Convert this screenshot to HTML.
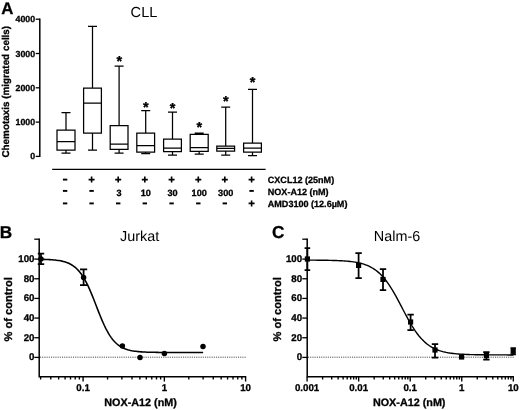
<!DOCTYPE html>
<html><head><meta charset="utf-8"><title>Figure</title>
<style>
html,body{margin:0;padding:0;background:#fff;}
body{width:520px;height:410px;overflow:hidden;}
svg{display:block;will-change:transform;transform:translateZ(0);}
text{font-family:"Liberation Sans",sans-serif;fill:#000;text-rendering:geometricPrecision;}
.b{font-weight:bold;stroke:#000;stroke-width:0.3px;}
.l{stroke:#000;fill:none;}
</style></head><body>
<svg width="520" height="410" viewBox="0 0 520 410">
<rect width="520" height="410" fill="#fff"/>
<text class="b" x="1.3" y="13.5" font-size="16.8">A</text>
<text x="144" y="16.8" font-size="14.6" text-anchor="middle">CLL</text>
<path class="l" stroke-width="1.5" d="M39.8 18.599999999999998V157.0"/>
<path class="l" stroke-width="1.3" d="M35.699999999999996 156.40H39.8"/>
<text class="b" x="35.099999999999994" y="159" font-size="8.8" text-anchor="end">0</text>
<path class="l" stroke-width="1.3" d="M35.699999999999996 122.10H39.8"/>
<text class="b" x="35.099999999999994" y="125" font-size="8.8" text-anchor="end">1000</text>
<path class="l" stroke-width="1.3" d="M35.699999999999996 87.80H39.8"/>
<text class="b" x="35.099999999999994" y="91" font-size="8.8" text-anchor="end">2000</text>
<path class="l" stroke-width="1.3" d="M35.699999999999996 53.50H39.8"/>
<text class="b" x="35.099999999999994" y="57" font-size="8.8" text-anchor="end">3000</text>
<path class="l" stroke-width="1.3" d="M35.699999999999996 19.20H39.8"/>
<text class="b" x="35.099999999999994" y="22" font-size="8.8" text-anchor="end">4000</text>
<text class="b" font-size="9.9" text-anchor="middle" transform="translate(8.7 91.7) rotate(-90)">Chemotaxis (migrated cells)</text>
<path class="l" stroke-width="1.25" d="M57 130H75V150.1H57Z M57 141.6H75 M66.0 130V112.6 M61.5 112.6H70.5 M66.0 150.1V153.1 M61.5 153.1H70.5"/>
<path class="l" stroke-width="1.25" d="M83.6 88H101.4V133H83.6Z M83.6 103H101.4 M92.5 88V26.4 M88.0 26.4H97.0 M92.5 133V150 M88.0 150H97.0"/>
<path class="l" stroke-width="1.25" d="M110.2 125.6H128V149.4H110.2Z M110.2 144H128 M119.1 125.6V66 M114.6 66H123.6 M119.1 149.4V153 M114.6 153H123.6"/>
<text class="b" x="119.3" y="66" font-size="14.5" text-anchor="middle" stroke="#000" stroke-width="0.25">*</text>
<path class="l" stroke-width="1.25" d="M136.8 133H154.6V152H136.8Z M136.8 145.6H154.6 M145.7 133V110.6 M141.2 110.6H150.2 M145.7 152V153.6 M141.2 153.6H150.2"/>
<text class="b" x="145.89999999999998" y="112" font-size="14.5" text-anchor="middle" stroke="#000" stroke-width="0.25">*</text>
<path class="l" stroke-width="1.25" d="M163.6 139H181.4V151.6H163.6Z M163.6 148H181.4 M172.5 139V112 M168.0 112H177.0 M172.5 151.6V155 M168.0 155H177.0"/>
<text class="b" x="172.7" y="113" font-size="14.5" text-anchor="middle" stroke="#000" stroke-width="0.25">*</text>
<path class="l" stroke-width="1.25" d="M190.2 134.4H208.2V151.4H190.2Z M190.2 147.6H208.2 M199.2 134.4V133 M194.7 133H203.7 M199.2 151.4V154 M194.7 154H203.7"/>
<text class="b" x="199.39999999999998" y="132" font-size="14.5" text-anchor="middle" stroke="#000" stroke-width="0.25">*</text>
<path class="l" stroke-width="1.25" d="M216.8 146H234.6V151H216.8Z M216.8 148.4H234.6 M225.7 146V107 M221.2 107H230.2 M225.7 151V155 M221.2 155H230.2"/>
<text class="b" x="225.89999999999998" y="106" font-size="14.5" text-anchor="middle" stroke="#000" stroke-width="0.25">*</text>
<path class="l" stroke-width="1.25" d="M243.6 143H261.4V152H243.6Z M243.6 148H261.4 M252.5 143V89.4 M248.0 89.4H257.0 M252.5 152V155.6 M248.0 155.6H257.0"/>
<text class="b" x="252.7" y="87" font-size="14.5" text-anchor="middle" stroke="#000" stroke-width="0.25">*</text>
<path class="l" stroke-width="1.2" d="M52.2 169.4H265.6"/>
<path class="l" stroke-width="1.9" d="M62.89999999999999 179.6H67.3"/>
<path class="l" stroke-width="1.9" d="M62.89999999999999 190.9H67.3"/>
<path class="l" stroke-width="1.9" d="M62.89999999999999 203.4H67.3"/>
<path class="l" stroke-width="1.6" d="M88.6 179.6H94.6M91.6 176.6V182.6"/>
<path class="l" stroke-width="1.9" d="M89.39999999999999 190.9H93.8"/>
<path class="l" stroke-width="1.9" d="M89.39999999999999 203.4H93.8"/>
<path class="l" stroke-width="1.6" d="M115.19999999999999 179.6H121.19999999999999M118.19999999999999 176.6V182.6"/>
<text class="b" x="119.1" y="195.5" font-size="9.1" text-anchor="middle">3</text>
<path class="l" stroke-width="1.9" d="M115.99999999999999 203.4H120.39999999999999"/>
<path class="l" stroke-width="1.6" d="M141.79999999999998 179.6H147.79999999999998M144.79999999999998 176.6V182.6"/>
<text class="b" x="145.7" y="195.5" font-size="9.1" text-anchor="middle">10</text>
<path class="l" stroke-width="1.9" d="M142.6 203.4H146.99999999999997"/>
<path class="l" stroke-width="1.6" d="M168.6 179.6H174.6M171.6 176.6V182.6"/>
<text class="b" x="172.5" y="195.5" font-size="9.1" text-anchor="middle">30</text>
<path class="l" stroke-width="1.9" d="M169.4 203.4H173.79999999999998"/>
<path class="l" stroke-width="1.6" d="M195.29999999999998 179.6H201.29999999999998M198.29999999999998 176.6V182.6"/>
<text class="b" x="199.2" y="195.5" font-size="9.1" text-anchor="middle">100</text>
<path class="l" stroke-width="1.9" d="M196.1 203.4H200.49999999999997"/>
<path class="l" stroke-width="1.6" d="M221.79999999999998 179.6H227.79999999999998M224.79999999999998 176.6V182.6"/>
<text class="b" x="225.7" y="195.5" font-size="9.1" text-anchor="middle">300</text>
<path class="l" stroke-width="1.9" d="M222.6 203.4H226.99999999999997"/>
<path class="l" stroke-width="1.6" d="M248.6 179.6H254.6M251.6 176.6V182.6"/>
<path class="l" stroke-width="1.9" d="M249.4 190.9H253.79999999999998"/>
<path class="l" stroke-width="1.6" d="M248.6 203.4H254.6M251.6 200.4V206.4"/>
<text class="b" x="267.8" y="182.7" font-size="9.05">CXCL12 (25nM)</text>
<text class="b" x="267.8" y="195.1" font-size="9.05">NOX-A12 (nM)</text>
<text class="b" x="267.8" y="206.8" font-size="9.05">AMD3100 (12.6µM)</text>
<text class="b" x="-0.2" y="238.2" font-size="17.2">B</text>
<text x="139.6" y="241.1" font-size="14.4" text-anchor="middle">Jurkat</text>
<path class="l" stroke-width="1.5" d="M39.2 238.5V376.7H246.2"/>
<path class="l" stroke-width="1.3" d="M34.300000000000004 239.2H39.2"/>
<path class="l" stroke-width="1.3" d="M34.300000000000004 357.40H39.2"/>
<text class="b" x="34.5" y="360" font-size="9.7" text-anchor="end">0</text>
<path class="l" stroke-width="1.3" d="M34.300000000000004 337.74H39.2"/>
<text class="b" x="34.5" y="341" font-size="9.7" text-anchor="end">20</text>
<path class="l" stroke-width="1.3" d="M34.300000000000004 318.08H39.2"/>
<text class="b" x="34.5" y="321" font-size="9.7" text-anchor="end">40</text>
<path class="l" stroke-width="1.3" d="M34.300000000000004 298.42H39.2"/>
<text class="b" x="34.5" y="301" font-size="9.7" text-anchor="end">60</text>
<path class="l" stroke-width="1.3" d="M34.300000000000004 278.76H39.2"/>
<text class="b" x="34.5" y="282" font-size="9.7" text-anchor="end">80</text>
<path class="l" stroke-width="1.3" d="M34.300000000000004 259.10H39.2"/>
<text class="b" x="34.5" y="262" font-size="9.7" text-anchor="end">100</text>
<path d="M40.0 357.2H246.1" stroke="#333" stroke-width="0.9" stroke-dasharray="1.1 1.1" fill="none"/>
<text class="b" font-size="11.15" text-anchor="middle" transform="translate(12.2 309.4) rotate(-90)">% of control</text>
<path class="l" stroke-width="1.35" d="M40.62 376.7V379.6 M50.77 376.7V379.6 M58.64 376.7V379.6 M65.07 376.7V379.6 M70.51 376.7V379.6 M75.23 376.7V379.6 M79.38 376.7V379.6 M83.10 376.7V381.6 M107.56 376.7V379.6 M121.87 376.7V379.6 M132.02 376.7V379.6 M139.89 376.7V379.6 M146.32 376.7V379.6 M151.76 376.7V379.6 M156.48 376.7V379.6 M160.63 376.7V379.6 M164.35 376.7V381.6 M188.81 376.7V379.6 M203.12 376.7V379.6 M213.27 376.7V379.6 M221.14 376.7V379.6 M227.57 376.7V379.6 M233.01 376.7V379.6 M237.73 376.7V379.6 M241.88 376.7V379.6 M245.60 376.7V381.6"/>
<text class="b" x="83.10" y="391" font-size="9.7" text-anchor="middle">0.1</text>
<text class="b" x="164.35" y="391" font-size="9.7" text-anchor="middle">1</text>
<text class="b" x="245.60" y="391" font-size="9.7" text-anchor="middle">10</text>
<text class="b" x="140.6" y="406.3" font-size="10.8" text-anchor="middle">NOX-A12 (nM)</text>
<path class="l" stroke-width="1.55" d="M38.56 259.26 L39.93 259.28 L41.30 259.31 L42.67 259.35 L44.04 259.39 L45.41 259.43 L46.79 259.49 L48.16 259.55 L49.53 259.62 L50.90 259.71 L52.27 259.81 L53.64 259.93 L55.01 260.06 L56.38 260.22 L57.76 260.40 L59.13 260.60 L60.50 260.85 L61.87 261.13 L63.24 261.45 L64.61 261.83 L65.98 262.26 L67.36 262.76 L68.73 263.33 L70.10 263.99 L71.47 264.74 L72.84 265.60 L74.21 266.58 L75.58 267.70 L76.95 268.96 L78.33 270.38 L79.70 271.98 L81.07 273.76 L82.44 275.74 L83.81 277.92 L85.18 280.31 L86.55 282.90 L87.93 285.69 L89.30 288.68 L90.67 291.83 L92.04 295.13 L93.41 298.54 L94.78 302.04 L96.15 305.58 L97.52 309.12 L98.90 312.63 L100.27 316.05 L101.64 319.37 L103.01 322.54 L104.38 325.54 L105.75 328.36 L107.12 330.98 L108.49 333.39 L109.87 335.59 L111.24 337.60 L112.61 339.40 L113.98 341.02 L115.35 342.46 L116.72 343.74 L118.09 344.87 L119.47 345.87 L120.84 346.75 L122.21 347.51 L123.58 348.18 L124.95 348.76 L126.32 349.27 L127.69 349.71 L129.06 350.09 L130.44 350.42 L131.81 350.71 L133.18 350.95 L134.55 351.17 L135.92 351.35 L137.29 351.51 L138.66 351.64 L140.04 351.76 L141.41 351.86 L142.78 351.95 L144.15 352.03 L145.52 352.09 L146.89 352.15 L148.26 352.19 L149.63 352.23 L151.01 352.27 L152.38 352.30 L153.75 352.33 L155.12 352.35 L156.49 352.37 L157.86 352.38 L159.23 352.40 L160.61 352.41 L161.98 352.42 L163.35 352.43 L164.72 352.44 L166.09 352.44 L167.46 352.45 L168.83 352.46 L170.20 352.46 L171.58 352.46 L172.95 352.47 L174.32 352.47 L175.69 352.47 L177.06 352.47 L178.43 352.47 L179.80 352.48 L181.17 352.48 L182.55 352.48 L183.92 352.48 L185.29 352.48 L186.66 352.48 L188.03 352.48 L189.40 352.48 L190.77 352.48 L192.15 352.48 L193.52 352.48 L194.89 352.48 L196.26 352.48 L197.63 352.48 L199.00 352.48 L200.37 352.48 L201.74 352.48 L203.12 352.48"/>
<path class="l" stroke-width="1.75" d="M41 253.6V264.2M37.8 253.6H44.2M37.8 264.2H44.2"/>
<path class="l" stroke-width="1.75" d="M83.6 269.4V285.2M80.0 269.4H87.19999999999999M80.0 285.2H87.19999999999999"/>
<circle cx="41" cy="259" r="2.75" fill="#000"/>
<circle cx="83.6" cy="277.4" r="2.75" fill="#000"/>
<circle cx="122.4" cy="346" r="2.75" fill="#000"/>
<circle cx="140" cy="357.4" r="2.75" fill="#000"/>
<circle cx="164.4" cy="353.6" r="2.75" fill="#000"/>
<circle cx="203" cy="346.4" r="2.75" fill="#000"/>
<text class="b" x="272.1" y="238.2" font-size="17.2">C</text>
<text x="397" y="241.1" font-size="14.4" text-anchor="middle">Nalm-6</text>
<path class="l" stroke-width="1.5" d="M307.2 238.5V376.7H513.9"/>
<path class="l" stroke-width="1.3" d="M302.3 239.2H307.2"/>
<path class="l" stroke-width="1.3" d="M302.3 357.40H307.2"/>
<text class="b" x="302.1" y="360" font-size="9.7" text-anchor="end">0</text>
<path class="l" stroke-width="1.3" d="M302.3 337.74H307.2"/>
<text class="b" x="302.1" y="341" font-size="9.7" text-anchor="end">20</text>
<path class="l" stroke-width="1.3" d="M302.3 318.08H307.2"/>
<text class="b" x="302.1" y="321" font-size="9.7" text-anchor="end">40</text>
<path class="l" stroke-width="1.3" d="M302.3 298.42H307.2"/>
<text class="b" x="302.1" y="301" font-size="9.7" text-anchor="end">60</text>
<path class="l" stroke-width="1.3" d="M302.3 278.76H307.2"/>
<text class="b" x="302.1" y="282" font-size="9.7" text-anchor="end">80</text>
<path class="l" stroke-width="1.3" d="M302.3 259.10H307.2"/>
<text class="b" x="302.1" y="262" font-size="9.7" text-anchor="end">100</text>
<path d="M308.0 357.2H513.8" stroke="#333" stroke-width="0.9" stroke-dasharray="1.1 1.1" fill="none"/>
<text class="b" font-size="11.15" text-anchor="middle" transform="translate(281.2 309.4) rotate(-90)">% of control</text>
<path class="l" stroke-width="1.35" d="M307.10 376.7V381.6 M322.62 376.7V379.6 M331.70 376.7V379.6 M338.14 376.7V379.6 M343.13 376.7V379.6 M347.21 376.7V379.6 M350.66 376.7V379.6 M353.65 376.7V379.6 M356.29 376.7V379.6 M358.65 376.7V381.6 M374.17 376.7V379.6 M383.25 376.7V379.6 M389.69 376.7V379.6 M394.68 376.7V379.6 M398.76 376.7V379.6 M402.21 376.7V379.6 M405.20 376.7V379.6 M407.84 376.7V379.6 M410.20 376.7V381.6 M425.72 376.7V379.6 M434.80 376.7V379.6 M441.24 376.7V379.6 M446.23 376.7V379.6 M450.31 376.7V379.6 M453.76 376.7V379.6 M456.75 376.7V379.6 M459.39 376.7V379.6 M461.75 376.7V381.6 M477.27 376.7V379.6 M486.35 376.7V379.6 M492.79 376.7V379.6 M497.78 376.7V379.6 M501.86 376.7V379.6 M505.31 376.7V379.6 M508.30 376.7V379.6 M510.94 376.7V379.6 M513.30 376.7V381.6"/>
<text class="b" x="307.10" y="391" font-size="9.7" text-anchor="middle">0.001</text>
<text class="b" x="358.65" y="391" font-size="9.7" text-anchor="middle">0.01</text>
<text class="b" x="410.20" y="391" font-size="9.7" text-anchor="middle">0.1</text>
<text class="b" x="461.75" y="391" font-size="9.7" text-anchor="middle">1</text>
<text class="b" x="513.30" y="391" font-size="9.7" text-anchor="middle">10</text>
<text class="b" x="409.2" y="406.3" font-size="10.8" text-anchor="middle">NOX-A12 (nM)</text>
<path class="l" stroke-width="1.4" d="M307.10 260.13 L308.82 260.13 L310.54 260.14 L312.25 260.15 L313.97 260.16 L315.69 260.17 L317.41 260.18 L319.13 260.20 L320.85 260.21 L322.56 260.23 L324.28 260.26 L326.00 260.28 L327.72 260.31 L329.44 260.35 L331.16 260.39 L332.88 260.43 L334.59 260.48 L336.31 260.54 L338.03 260.61 L339.75 260.69 L341.47 260.78 L343.19 260.88 L344.90 261.00 L346.62 261.14 L348.34 261.30 L350.06 261.47 L351.78 261.68 L353.50 261.91 L355.21 262.18 L356.93 262.49 L358.65 262.84 L360.37 263.23 L362.09 263.69 L363.81 264.20 L365.52 264.79 L367.24 265.45 L368.96 266.20 L370.68 267.05 L372.40 268.01 L374.12 269.08 L375.83 270.28 L377.55 271.62 L379.27 273.11 L380.99 274.76 L382.71 276.57 L384.43 278.56 L386.14 280.72 L387.86 283.06 L389.58 285.57 L391.30 288.25 L393.02 291.08 L394.74 294.06 L396.45 297.16 L398.17 300.35 L399.89 303.61 L401.61 306.90 L403.33 310.21 L405.05 313.48 L406.76 316.70 L408.48 319.84 L410.20 322.86 L411.92 325.75 L413.64 328.49 L415.36 331.06 L417.07 333.47 L418.79 335.69 L420.51 337.74 L422.23 339.62 L423.95 341.33 L425.66 342.87 L427.38 344.27 L429.10 345.52 L430.82 346.64 L432.54 347.63 L434.26 348.52 L435.98 349.31 L437.69 350.00 L439.41 350.62 L441.13 351.16 L442.85 351.63 L444.57 352.05 L446.29 352.42 L448.00 352.74 L449.72 353.02 L451.44 353.26 L453.16 353.48 L454.88 353.67 L456.59 353.83 L458.31 353.97 L460.03 354.10 L461.75 354.21 L463.47 354.30 L465.19 354.39 L466.91 354.46 L468.62 354.52 L470.34 354.58 L472.06 354.62 L473.78 354.66 L475.50 354.70 L477.21 354.73 L478.93 354.76 L480.65 354.78 L482.37 354.80 L484.09 354.82 L485.81 354.84 L487.52 354.85 L489.24 354.86 L490.96 354.87 L492.68 354.88 L494.40 354.89 L496.12 354.90 L497.84 354.90 L499.55 354.91 L501.27 354.91 L502.99 354.92 L504.71 354.92 L506.43 354.92 L508.14 354.93 L509.86 354.93 L511.58 354.93 L513.30 354.93"/>
<path class="l" stroke-width="1.75" d="M307.4 248V270M304.59999999999997 248H310.2M304.59999999999997 270H310.2"/>
<rect x="304.79999999999995" y="256.4" width="5.2" height="5.2" fill="#000"/>
<path class="l" stroke-width="1.75" d="M358.6 253V278M355.40000000000003 253H361.8M355.40000000000003 278H361.8"/>
<rect x="356.0" y="262.79999999999995" width="5.2" height="5.2" fill="#000"/>
<path class="l" stroke-width="1.75" d="M383 269V290M379.8 269H386.2M379.8 290H386.2"/>
<rect x="380.4" y="276.79999999999995" width="5.2" height="5.2" fill="#000"/>
<path class="l" stroke-width="1.75" d="M410.6 314.6V330M407.40000000000003 314.6H413.8M407.40000000000003 330H413.8"/>
<rect x="408.0" y="319.4" width="5.2" height="5.2" fill="#000"/>
<path class="l" stroke-width="1.75" d="M435 344V357.6M431.8 344H438.2M431.8 357.6H438.2"/>
<rect x="432.4" y="347.4" width="5.2" height="5.2" fill="#000"/>
<rect x="459.0" y="354.4" width="5.2" height="5.2" fill="#000"/>
<path class="l" stroke-width="1.75" d="M486.4 352V359.6M483.2 352H489.59999999999997M483.2 359.6H489.59999999999997"/>
<rect x="483.79999999999995" y="353.0" width="5.2" height="5.2" fill="#000"/>
<path class="l" stroke-width="1.75" d="M513.2 348.2V354.4M510.50000000000006 348.2H515.9000000000001M510.50000000000006 354.4H515.9000000000001"/>
<rect x="510.6" y="348.59999999999997" width="5.2" height="5.2" fill="#000"/>
</svg></body></html>
